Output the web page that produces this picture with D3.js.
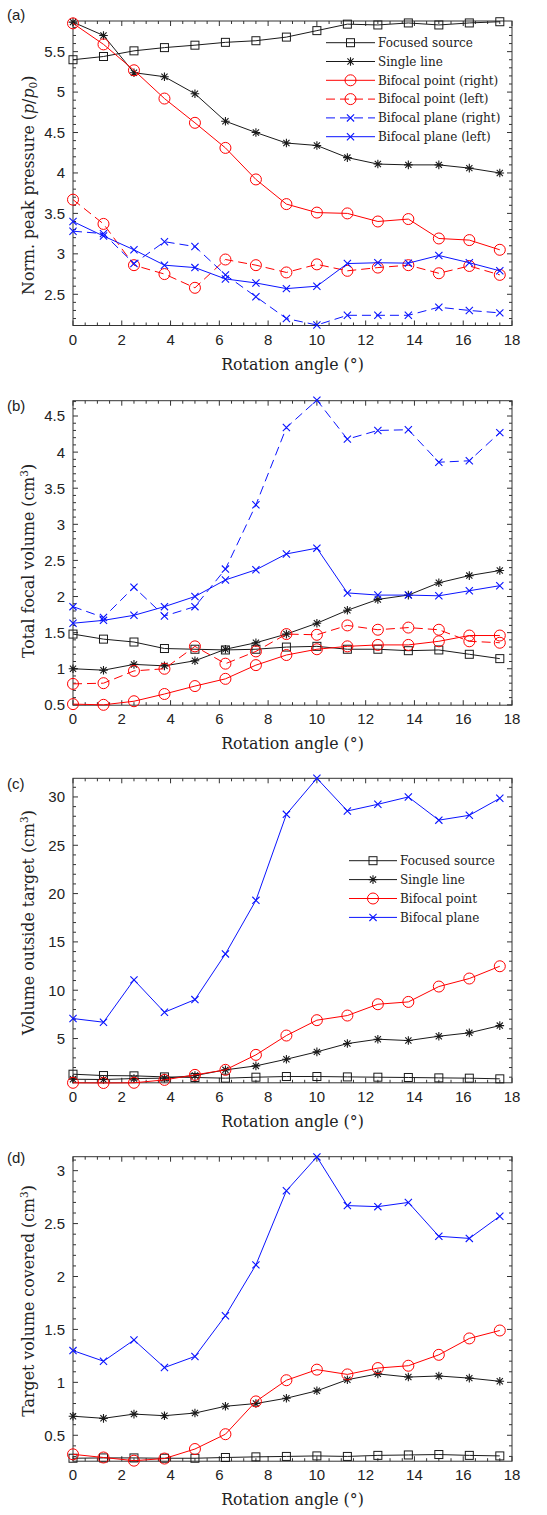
<!DOCTYPE html>
<html><head><meta charset="utf-8">
<script src="https://cdn.jsdelivr.net/npm/d3@7"></script>
<style>body{margin:0;background:#fff}svg{display:block}</style>
</head><body>
<script>
const angles = [0,1.25,2.5,3.75,5,6.25,7.5,8.75,10,11.25,12.5,13.75,15,16.25,17.5];
const xTicks = [0,2,4,6,8,10,12,14,16,18];

// (a) Normalised peak pressure
const peakFocused   = [5.40,5.44,5.51,5.55,5.58,5.615,5.635,5.68,5.76,5.84,5.83,5.855,5.83,5.855,5.87];
const peakSingle    = [5.865,5.70,5.24,5.19,4.98,4.64,4.50,4.37,4.34,4.19,4.11,4.10,4.10,4.06,4.00];
const peakPointR    = [5.85,5.59,5.27,4.92,4.62,4.31,3.92,3.615,3.51,3.50,3.40,3.43,3.19,3.17,3.05];
const peakPointL    = [3.67,3.37,2.86,2.75,2.58,2.93,2.86,2.77,2.87,2.79,2.83,2.86,2.76,2.85,2.74];
const peakPlaneR    = [3.28,3.25,2.88,3.15,3.09,2.74,2.47,2.20,2.12,2.24,2.24,2.24,2.34,2.30,2.27];
const peakPlaneL    = [3.40,3.22,3.05,2.86,2.83,2.69,2.64,2.57,2.60,2.88,2.89,2.885,2.98,2.89,2.79];
const peakTicks     = [2.5,3,3.5,4,4.5,5,5.5];

// (b) Total focal volume
const volFocused    = [1.48,1.41,1.37,1.28,1.27,1.26,1.27,1.30,1.31,1.27,1.27,1.25,1.26,1.20,1.14];
const volSingle     = [1.00,0.98,1.06,1.04,1.11,1.27,1.36,1.48,1.63,1.81,1.96,2.02,2.19,2.29,2.36];
const volPointR     = [0.51,0.50,0.55,0.65,0.76,0.86,1.05,1.19,1.27,1.31,1.33,1.33,1.38,1.46,1.46];
const volPointL     = [0.79,0.80,0.97,1.00,1.31,1.07,1.24,1.48,1.47,1.60,1.54,1.57,1.54,1.38,1.36];
const volPlaneR     = [1.86,1.71,2.13,1.73,1.86,2.38,3.27,4.34,4.72,4.18,4.30,4.31,3.86,3.88,4.27];
const volPlaneL     = [1.63,1.67,1.74,1.86,2.00,2.23,2.37,2.59,2.67,2.05,2.02,2.02,2.01,2.08,2.15];
const volTicks      = [0.5,1,1.5,2,2.5,3,3.5,4,4.5];

// (c) Volume outside target
const outFocused    = [1.31,1.17,1.14,1.03,0.97,0.90,1.00,1.07,1.07,1.03,1.00,0.97,0.93,0.90,0.83];
const outSingle     = [0.79,0.76,0.86,0.90,1.17,1.76,2.17,2.86,3.62,4.48,4.93,4.79,5.24,5.59,6.34];
const outPoint      = [0.42,0.40,0.42,0.72,1.24,1.76,3.31,5.31,6.90,7.38,8.55,8.79,10.38,11.21,12.48];
const outPlane      = [7.07,6.69,11.07,7.72,9.03,13.76,19.3,28.2,31.93,28.55,29.24,30.0,27.6,28.1,29.86];
const outTicks      = [5,10,15,20,25,30];

// (d) Target volume covered
const covFocused    = [0.283,0.286,0.286,0.283,0.283,0.29,0.296,0.30,0.305,0.30,0.31,0.314,0.318,0.31,0.305];
const covSingle     = [0.68,0.66,0.70,0.685,0.71,0.774,0.80,0.85,0.92,1.025,1.08,1.05,1.06,1.04,1.01];
const covPoint      = [0.32,0.29,0.26,0.28,0.37,0.51,0.82,1.02,1.12,1.075,1.135,1.157,1.26,1.415,1.49];
const covPlane      = [1.30,1.20,1.40,1.14,1.245,1.63,2.11,2.81,3.13,2.67,2.66,2.70,2.38,2.36,2.57];
const covTicks      = [0.5,1,1.5,2,2.5,3];

const legendA = ["Focused source","Single line","Bifocal point (right)","Bifocal point (left)","Bifocal plane (right)","Bifocal plane (left)"];
const legendC = ["Focused source","Single line","Bifocal point","Bifocal plane"];

const BLACK="#1a1a1a", RED="#ff0000", BLUE="#0a14ff";
const st = {
  focused:{color:BLACK, marker:"square", dash:null},
  single:{color:BLACK, marker:"star", dash:null},
  pointR:{color:RED, marker:"circle", dash:null},
  pointL:{color:RED, marker:"circle", dash:"9,5"},
  planeR:{color:BLUE, marker:"x", dash:"9,5"},
  planeL:{color:BLUE, marker:"x", dash:null}
};

const W=547, H=1515, L=73, R=512, PH=304.5;
const svg=d3.select("body").append("svg").attr("width",W).attr("height",H);
const x=d3.scaleLinear().domain([0,18]).range([L,R]);
const SERIF="'DejaVu Serif', serif";
const SANS="'Liberation Sans', Arial, sans-serif";
const TITLE_SIZE=15.8;

function drawMarker(g, type, cx, cy, color){
  if(type==="square"){
    g.append("rect").attr("x",cx-4).attr("y",cy-4).attr("width",8).attr("height",8)
      .attr("fill","none").attr("stroke",color).attr("stroke-width",1);
  } else if(type==="circle"){
    g.append("circle").attr("cx",cx).attr("cy",cy).attr("r",5.5)
      .attr("fill","none").attr("stroke",color).attr("stroke-width",1);
  } else if(type==="x"){
    const s=3.6;
    g.append("path").attr("d",`M${cx-s},${cy-s}L${cx+s},${cy+s}M${cx-s},${cy+s}L${cx+s},${cy-s}`)
      .attr("stroke",color).attr("stroke-width",1.1).attr("fill","none");
  } else if(type==="star"){
    const s=4.3, d=3.1;
    g.append("path").attr("d",`M${cx-s},${cy}L${cx+s},${cy}M${cx},${cy-s}L${cx},${cy+s}M${cx-d},${cy-d}L${cx+d},${cy+d}M${cx-d},${cy+d}L${cx+d},${cy-d}`)
      .attr("stroke",color).attr("stroke-width",1.1).attr("fill","none");
  }
}

function panel(cfg){
  const top=cfg.top, bot=top+PH;
  const y=d3.scaleLinear().domain(cfg.domain).range([bot,top]);
  const g=svg.append("g");
  g.append("rect").attr("x",L).attr("y",top).attr("width",R-L).attr("height",PH)
    .attr("fill","#fff").attr("stroke","#333").attr("stroke-width",1);
  const xMinor=d3.range(0,18.01,0.5);
  xMinor.forEach(v=>{
    const major=Math.abs(v/2-Math.round(v/2))<1e-6;
    const len=major?5:3;
    const px=x(v);
    g.append("line").attr("x1",px).attr("x2",px).attr("y1",bot).attr("y2",bot-len).attr("stroke","#333");
    g.append("line").attr("x1",px).attr("x2",px).attr("y1",top).attr("y2",top+len).attr("stroke","#333");
  });
  xTicks.forEach(v=>{
    g.append("text").attr("x",x(v)).attr("y",bot+19).attr("text-anchor","middle")
      .attr("font-family",SANS).attr("font-size",15).attr("fill","#222").text(v);
  });
  const [d0,d1]=cfg.domain;
  const start=Math.ceil(d0/cfg.minor-1e-9)*cfg.minor;
  for(let v=start; v<=d1+1e-9; v+=cfg.minor){
    const vv=Math.round(v/cfg.minor)*cfg.minor;
    const major=cfg.ticks.some(t=>Math.abs(t-vv)<1e-6);
    const len=major?5:3;
    const py=y(vv);
    g.append("line").attr("x1",L).attr("x2",L+len).attr("y1",py).attr("y2",py).attr("stroke","#333");
    g.append("line").attr("x1",R).attr("x2",R-len).attr("y1",py).attr("y2",py).attr("stroke","#333");
  }
  cfg.ticks.forEach(v=>{
    g.append("text").attr("x",L-8).attr("y",y(v)).attr("dy","0.36em").attr("text-anchor","end")
      .attr("font-family",SANS).attr("font-size",15).attr("fill","#222").text(v);
  });
  g.append("text").attr("x",(L+R)/2).attr("y",bot+44).attr("text-anchor","middle")
    .attr("font-family",SERIF).attr("font-size",TITLE_SIZE).attr("fill","#222").text("Rotation angle (°)");
  const yt=g.append("text").attr("transform",`translate(33.5,${(top+bot)/2+cfg.titleShift}) rotate(-90)`)
    .attr("text-anchor","middle").attr("font-family",SERIF).attr("font-size",TITLE_SIZE).attr("fill","#222");
  cfg.ytitle(yt);
  g.append("text").attr("x",7).attr("y",cfg.labelY).attr("font-family",SANS).attr("font-size",15)
    .attr("fill","#222").text(cfg.label);
  const line=d3.line().x((d,i)=>x(angles[i])).y(d=>y(d));
  cfg.series.forEach(s=>{
    g.append("path").datum(s.data).attr("d",line).attr("fill","none")
      .attr("stroke",s.style.color).attr("stroke-width",1)
      .attr("stroke-dasharray",s.style.dash);
    s.data.forEach((v,i)=>drawMarker(g,s.style.marker,x(angles[i]),y(v),s.style.color));
  });
  if(cfg.legend){
    const lg=cfg.legend;
    lg.items.forEach((name,i)=>{
      const yy=lg.y+i*lg.dy, s=lg.styles[i];
      g.append("line").attr("x1",lg.x).attr("x2",lg.x+lg.len).attr("y1",yy).attr("y2",yy)
        .attr("stroke",s.color).attr("stroke-width",1).attr("stroke-dasharray",s.dash);
      drawMarker(g,s.marker,lg.x+lg.len/2,yy,s.color);
      g.append("text").attr("x",lg.x+lg.len+3).attr("y",yy).attr("dy","0.35em")
        .attr("font-family",SERIF).attr("font-size",12).attr("fill","#222").text(name);
    });
  }
}

function cm3(t,label){
  t.append("tspan").text(label+" (cm");
  t.append("tspan").attr("font-size",10.5).attr("dy",-6).text("3");
  t.append("tspan").attr("dy",6).text(")");
}

panel({top:21, domain:[2.114,5.879], ticks:peakTicks, minor:0.1, label:"(a)", labelY:20, titleShift:12,
  ytitle:t=>{
    t.append("tspan").text("Norm. peak pressure (");
    t.append("tspan").attr("font-style","italic").text("p");
    t.append("tspan").text("/");
    t.append("tspan").attr("font-style","italic").text("p");
    t.append("tspan").attr("font-size",10.5).attr("dy",3).text("0");
    t.append("tspan").attr("dy",-3).text(")");
  },
  series:[
    {data:peakFocused,style:st.focused},{data:peakSingle,style:st.single},
    {data:peakPointR,style:st.pointR},{data:peakPointL,style:st.pointL},
    {data:peakPlaneR,style:st.planeR},{data:peakPlaneL,style:st.planeL}],
  legend:{x:326,y:42.7,dy:18.8,len:49,items:legendA,
    styles:[st.focused,st.single,st.pointR,st.pointL,st.planeR,st.planeL]}
});

panel({top:400.7, domain:[0.495,4.712], ticks:volTicks, minor:0.1, label:"(b)", labelY:411, titleShift:8,
  ytitle:t=>cm3(t,"Total focal volume"),
  series:[
    {data:volFocused,style:st.focused},{data:volSingle,style:st.single},
    {data:volPointR,style:st.pointR},{data:volPointL,style:st.pointL},
    {data:volPlaneR,style:st.planeR},{data:volPlaneL,style:st.planeL}]
});

panel({top:778.3, domain:[0.42,31.93], ticks:outTicks, minor:1, label:"(c)", labelY:789, titleShift:-8,
  ytitle:t=>cm3(t,"Volume outside target"),
  series:[
    {data:outFocused,style:st.focused},{data:outSingle,style:st.single},
    {data:outPoint,style:st.pointR},{data:outPlane,style:st.planeL}],
  legend:{x:349,y:860.7,dy:18.9,len:48,items:legendC,
    styles:[st.focused,st.single,st.pointR,st.planeL]}
});

panel({top:1156.7, domain:[0.255,3.132], ticks:covTicks, minor:0.1, label:"(d)", labelY:1163, titleShift:-8,
  ytitle:t=>cm3(t,"Target volume covered"),
  series:[
    {data:covFocused,style:st.focused},{data:covSingle,style:st.single},
    {data:covPoint,style:st.pointR},{data:covPlane,style:st.planeL}]
});
</script>
</body></html>
